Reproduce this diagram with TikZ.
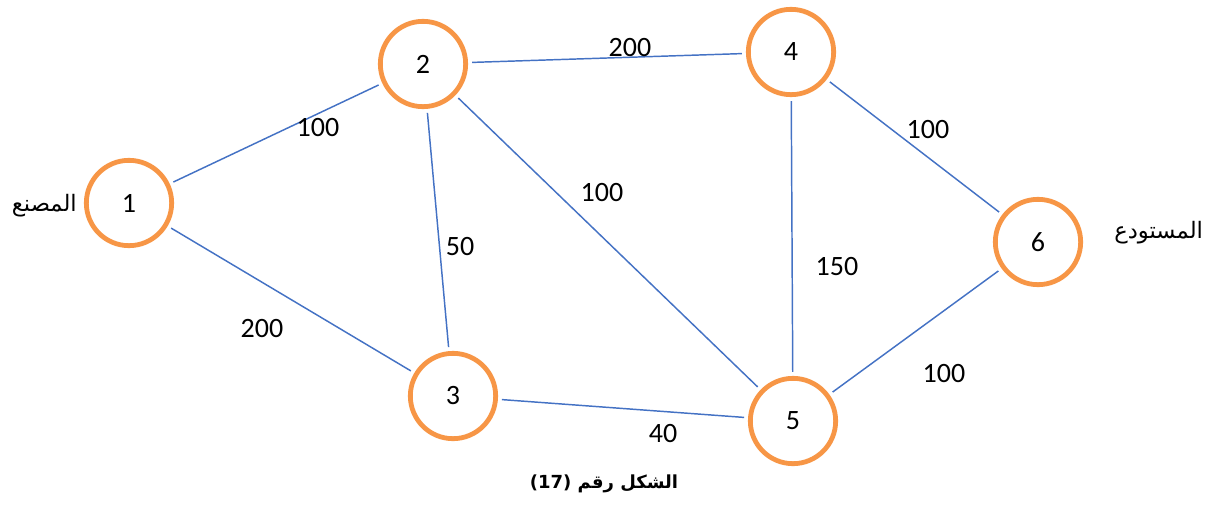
\documentclass[tikz,border=0pt]{standalone}
\usepackage{fontspec}
\setmainfont{Carlito}
\newfontfamily\arabicfont[Script=Arabic]{DejaVu Sans}
\TeXXeTstate=1
\usepackage{tikz}
\usetikzlibrary{positioning}
\definecolor{netorange}{RGB}{247,150,70}
\definecolor{netblue}{RGB}{68,114,196}

\begin{document}
\begin{tikzpicture}[
  x=0.75pt, y=-0.75pt,
  vnode/.style={circle, draw=netorange, line width=3.6pt, minimum size=64pt,
                inner sep=0pt, font=\fontsize{21}{24}\selectfont},
  edge/.style={draw=netblue, line width=1.1pt, shorten <=3pt, shorten >=3pt},
  wlabel/.style={font=\fontsize{21}{24}\selectfont, inner sep=0pt},
  arlabel/.style={font=\arabicfont\fontsize{17}{20}\selectfont, inner sep=0pt}
]
  \useasboundingbox (0,0) rectangle (1207,504);
  % vertices
  \node[vnode] (v1) at (129,203) {1};
  \node[vnode] (v2) at (423,64)  {2};
  \node[vnode] (v3) at (453,396) {3};
  \node[vnode] (v4) at (791,52)  {4};
  \node[vnode] (v5) at (793,421) {5};
  \node[vnode] (v6) at (1038,242){6};
  % edges
  \draw[edge] (v1)--(v2); \draw[edge] (v1)--(v3);
  \draw[edge] (v2)--(v4); \draw[edge] (v2)--(v3);
  \draw[edge] (v2)--(v5); \draw[edge] (v4)--(v5);
  \draw[edge] (v4)--(v6); \draw[edge] (v3)--(v5);
  \draw[edge] (v5)--(v6);
  % weights
  \node[wlabel] (w12) at (318,128) {100};
  \node[wlabel] (w13) at (262,329) {200};
  \node[wlabel] (w24) at (630,48)  {200};
  \node[wlabel] (w23) at (460,247) {50};
  \node[wlabel] (w25) at (602,193) {100};
  \node[wlabel] (w45) at (837,267) {150};
  \node[wlabel] (w46) at (928,130) {100};
  \node[wlabel] (w56) at (944,374) {100};
  \node[wlabel] (w35) at (663,434) {40};
  % source, sink, caption
  \node[arlabel, anchor=east] (src) at (77,206) {\beginR المصنع\endR};
  \node[arlabel, anchor=west] (snk) at (1114,233) {\beginR المستودع\endR};
  \node[arlabel, font=\arabicfont\bfseries\fontsize{13.5}{17}\selectfont] (cap) at (604,484)
       {\beginR الشكل رقم \beginL(17)\endL\endR};
\end{tikzpicture}
\end{document}
